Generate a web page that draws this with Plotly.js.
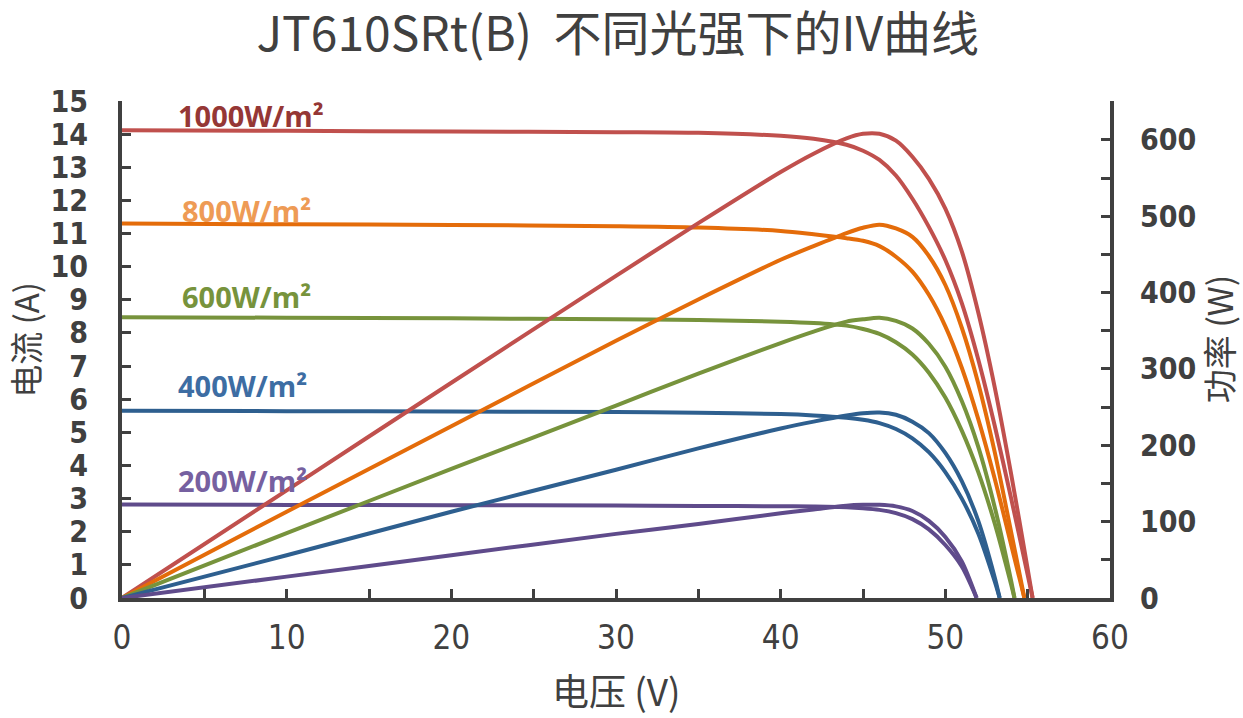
<!DOCTYPE html>
<html>
<head>
<meta charset="utf-8">
<script src="https://cdn.plot.ly/plotly-3.0.1.min.js"></script>
<style>
  html, body { margin: 0; padding: 0; background: #fff; }
  #chart { width: 1243px; height: 718px; }
  /* narrow digits like the original */
  .xtick text, .ytick text, .y2tick text { font-stretch: condensed !important; }
</style>
</head>
<body>
<div id="chart"></div>
<script>
// irradiance levels, in the order they are drawn
var irradianceLabels = ["1000W/m²", "800W/m²", "600W/m²", "400W/m²", "200W/m²"];

// voltage (V), current (A) and power (W)
var voltage1000 = [0, 10, 20, 30, 35, 40, 42, 44, 45, 46, 47, 48, 49, 50, 51, 52, 53, 54, 55, 55.3];
var current1000 = [14.12, 14.1, 14.08, 14.06, 14.04, 13.95, 13.86, 13.68, 13.5, 13.22, 12.75, 12.05, 11.2, 10.2, 8.9, 7.2, 5.2, 3.0, 0.7, 0];
var power1000   = [0, 141, 282, 422, 491, 558, 582, 602, 608, 608, 599, 578, 549, 510, 454, 374, 276, 162, 38, 0];

var voltage800 = [0, 10, 20, 30, 35, 40, 42, 44, 45, 46, 47, 48, 49, 50, 51, 52, 53, 54, 54.8];
var current800 = [11.3, 11.28, 11.26, 11.22, 11.18, 11.08, 10.98, 10.86, 10.78, 10.62, 10.3, 9.85, 9.15, 8.2, 6.95, 5.4, 3.6, 1.6, 0];
var power800   = [0, 113, 225, 337, 391, 443, 461, 478, 485, 489, 484, 473, 448, 410, 354, 281, 191, 86, 0];

var voltage600 = [0, 10, 20, 30, 35, 40, 42, 44, 45, 46, 47, 48, 49, 50, 51, 52, 53, 54, 54.2];
var current600 = [8.47, 8.46, 8.44, 8.41, 8.39, 8.34, 8.3, 8.22, 8.12, 7.97, 7.72, 7.35, 6.8, 6.05, 5.05, 3.8, 2.25, 0.4, 0];
var power600   = [0, 85, 169, 252, 294, 334, 349, 362, 365, 367, 363, 353, 333, 303, 258, 198, 119, 22, 0];

var voltage400 = [0, 10, 20, 30, 35, 40, 42, 44, 45, 46, 47, 48, 49, 50, 51, 52, 53, 53.3];
var current400 = [5.65, 5.64, 5.63, 5.61, 5.59, 5.55, 5.51, 5.44, 5.38, 5.28, 5.1, 4.82, 4.4, 3.8, 3.0, 1.95, 0.5, 0];
var power400   = [0, 56, 113, 168, 196, 222, 231, 239, 242, 243, 240, 231, 216, 190, 153, 101, 27, 0];

var voltage200 = [0, 10, 20, 30, 35, 40, 42, 44, 45, 46, 47, 48, 49, 50, 51, 51.9];
var current200 = [2.82, 2.81, 2.8, 2.79, 2.78, 2.77, 2.76, 2.74, 2.71, 2.66, 2.56, 2.38, 2.07, 1.6, 0.95, 0];
var power200   = [0, 28, 56, 84, 97, 111, 116, 121, 122, 122, 120, 114, 101, 80, 48, 0];

var lineColors  = ["#C0504D", "#E46C0A", "#77933C", "#2E5F8F", "#5F4B8B"];
var labelColors = ["#953735", "#EE9B55", "#77933C", "#3D6DA3", "#7660A0"];
// label anchor (V, A)
var labelX = [3.3, 3.5, 3.5, 3.3, 3.3];
var labelY = [14.55, 11.7, 9.1, 6.4, 3.55];

var voltages = [voltage1000, voltage800, voltage600, voltage400, voltage200];
var currents = [current1000, current800, current600, current400, current200];
var powers   = [power1000, power800, power600, power400, power200];

var traces = [];
for (i in voltages){
    traces.push({
        x: voltages[i], y: powers[i], yaxis: 'y2',
        type: 'scatter', mode: 'lines',
        line: {color: lineColors[i], width: 4, shape: 'spline', smoothing: 0.8},
        hoverinfo: 'skip'
    });
    traces.push({
        x: voltages[i], y: currents[i],
        type: 'scatter', mode: 'lines',
        line: {color: lineColors[i], width: 4, shape: 'spline', smoothing: 0.8},
        hoverinfo: 'skip'
    });
}

var annotations = [];
for (i in irradianceLabels){
    annotations.push({
        x: labelX[i], y: labelY[i], xref: 'x', yref: 'y',
        text: irradianceLabels[i], showarrow: false,
        xanchor: 'left', yanchor: 'middle',
        font: {family: 'Open Sans, sans-serif', size: 29, color: labelColors[i], weight: 'bold'}
    });
}
// axis titles
annotations.push({text: '电流 (A)', xref: 'paper', yref: 'paper', x: -0.099, y: 0.52,
    xanchor: 'center', yanchor: 'middle', textangle: -90, showarrow: false,
    font: {family: 'Noto Sans CJK SC, sans-serif', size: 33, color: '#404040'}});
annotations.push({text: '功率 (W)', xref: 'paper', yref: 'paper', x: 1.11, y: 0.52,
    xanchor: 'center', yanchor: 'middle', textangle: -90, showarrow: false,
    font: {family: 'Noto Sans CJK SC, sans-serif', size: 34, color: '#404040'}});
annotations.push({text: '电压 (V)', xref: 'paper', yref: 'paper', x: 0.5, y: -0.185,
    xanchor: 'center', yanchor: 'middle', showarrow: false,
    font: {family: 'Noto Sans CJK SC, sans-serif', size: 37, color: '#404040'}});

var tickFontBold = {family: 'DejaVu Sans, sans-serif', size: 30, color: '#404040', weight: 'bold'};

var layout = {
    width: 1243, height: 718,
    paper_bgcolor: '#ffffff', plot_bgcolor: '#ffffff',
    showlegend: false,
    margin: {l: 122, r: 133, t: 101, b: 120},
    title: {
        text: 'JT610SRt(B)  不同光强下的IV曲线',
        x: 0.497, xanchor: 'center', y: 0.953, yanchor: 'middle',
        font: {family: 'Noto Sans CJK SC, sans-serif', size: 48, color: '#404040'}
    },
    xaxis: {
        range: [0, 60], dtick: 10, tick0: 0,
        showgrid: false, zeroline: false,
        showline: true, linecolor: '#404040', linewidth: 4,
        ticks: 'inside', ticklen: 9, tickwidth: 3, tickcolor: '#404040',
        minor: {dtick: 5, ticks: 'inside', ticklen: 9, tickwidth: 3, tickcolor: '#404040'},
        ticklabelstandoff: 7,
        tickfont: {family: 'DejaVu Sans, sans-serif', size: 33, color: '#404040'}
    },
    yaxis: {
        range: [0, 15], dtick: 1, tick0: 0,
        showgrid: false, zeroline: false,
        showline: true, linecolor: '#404040', linewidth: 4,
        ticks: 'inside', ticklen: 9, tickwidth: 3, tickcolor: '#404040',
        ticklabelstandoff: 24,
        tickfont: tickFontBold
    },
    yaxis2: {
        overlaying: 'y', side: 'right',
        range: [0, 651], dtick: 100, tick0: 0,
        showgrid: false, zeroline: false,
        showline: true, linecolor: '#404040', linewidth: 4,
        ticks: 'inside', ticklen: 9, tickwidth: 3, tickcolor: '#404040',
        minor: {dtick: 50, ticks: 'inside', ticklen: 9, tickwidth: 3, tickcolor: '#404040'},
        ticklabelstandoff: 20,
        tickfont: tickFontBold
    },
    annotations: annotations
};

Plotly.newPlot('chart', traces, layout, {displayModeBar: false, staticPlot: true});
</script>
</body>
</html>
